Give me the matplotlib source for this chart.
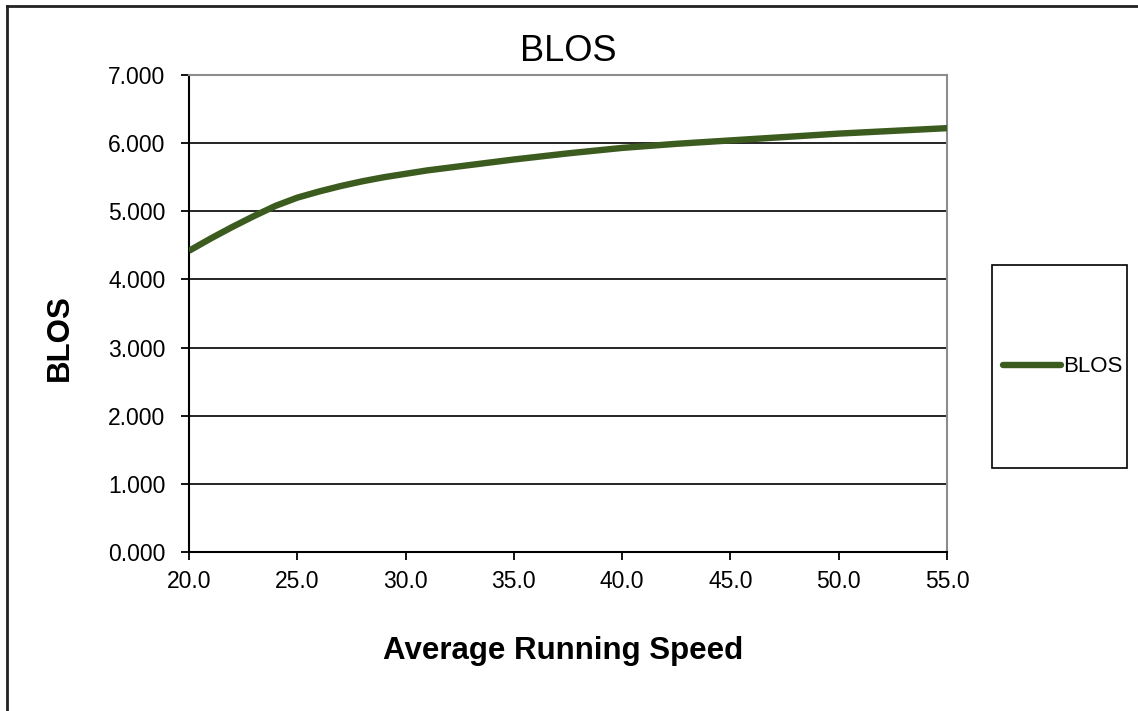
import matplotlib
matplotlib.use("Agg")
import matplotlib.pyplot as plt
from matplotlib.patches import Rectangle
from matplotlib.lines import Line2D

speed = [20, 21, 22, 23, 24, 25, 26, 27, 28, 29, 30, 31, 32, 33, 34, 35,
         37.5, 40, 42.5, 45, 47.5, 50, 52.5, 55]
blos = [4.42, 4.60, 4.77, 4.93, 5.08, 5.20, 5.29, 5.37, 5.44, 5.50, 5.55, 5.60, 5.64, 5.68, 5.72, 5.76,
        5.85, 5.93, 5.99, 6.04, 6.09, 6.14, 6.18, 6.22]
xticks = [20, 25, 30, 35, 40, 45, 50, 55]
yticks = [0, 1, 2, 3, 4, 5, 6, 7]

plt.rcParams['font.family'] = ['Liberation Sans', 'DejaVu Sans']

W, H = 1138, 711
fig = plt.figure(figsize=(W / 100, H / 100), dpi=100)
ax = fig.add_axes([189 / W, 1 - 552 / H, (947 - 189) / W, (552 - 75) / H])

ax.plot(speed, blos, color='#3B5B1F', lw=4.6, solid_capstyle='butt', solid_joinstyle='round',
        label='BLOS', zorder=3, clip_on=True)

ax.set_xlim(20, 55)
ax.set_ylim(0, 7)
ax.set_xticks(xticks)
ax.set_xticklabels([f"{v:.1f}" for v in xticks])
ax.set_yticks(yticks)
ax.set_yticklabels([f"{v:.3f}" for v in yticks])
ax.grid(axis='y', color='black', lw=1.2, zorder=1)
ax.tick_params(axis='both', direction='out', length=6, width=1.3, labelsize=16.5, colors='black')
ax.tick_params(axis='y', pad=11)
ax.tick_params(axis='x', pad=7)
for s in ['left', 'bottom']:
    ax.spines[s].set_color('black')
    ax.spines[s].set_linewidth(1.5)
for s in ['top', 'right']:
    ax.spines[s].set_color('#8c8c8c')
    ax.spines[s].set_linewidth(1.5)

ax.set_title('BLOS', fontsize=26, pad=10)
ax.set_xlabel('Average Running Speed', fontsize=22.5, fontweight='bold', va='center')
ax.xaxis.set_label_coords((563 - 189) / 758, (552 - 651) / 477)
ax.set_ylabel('BLOS', fontsize=22.5, fontweight='bold', va='center')
ax.yaxis.set_label_coords((60 - 189) / 758, (552 - 338) / 477)

# legend box
fig.patches.append(Rectangle((991.5 / W, 1 - 468 / H), 135 / W, 203 / H,
                             transform=fig.transFigure, fill=False, ec='black', lw=1.2))
leg = fig.legend(loc='center left', bbox_to_anchor=(1003 / W, 1 - 367 / H), frameon=False,
                 fontsize=16, handlelength=2.6, handletextpad=0.1, borderpad=0, borderaxespad=0)
for h in leg.get_lines():
    h.set_solid_capstyle('round')

# outer figure border
fig.add_artist(Line2D([7 / W, 7 / W], [0, 1 - 6 / H], transform=fig.transFigure, color='#222222', lw=2))
fig.add_artist(Line2D([7 / W, 1], [1 - 6 / H, 1 - 6 / H], transform=fig.transFigure, color='#222222', lw=2))

fig.savefig('out.png', dpi=100)
